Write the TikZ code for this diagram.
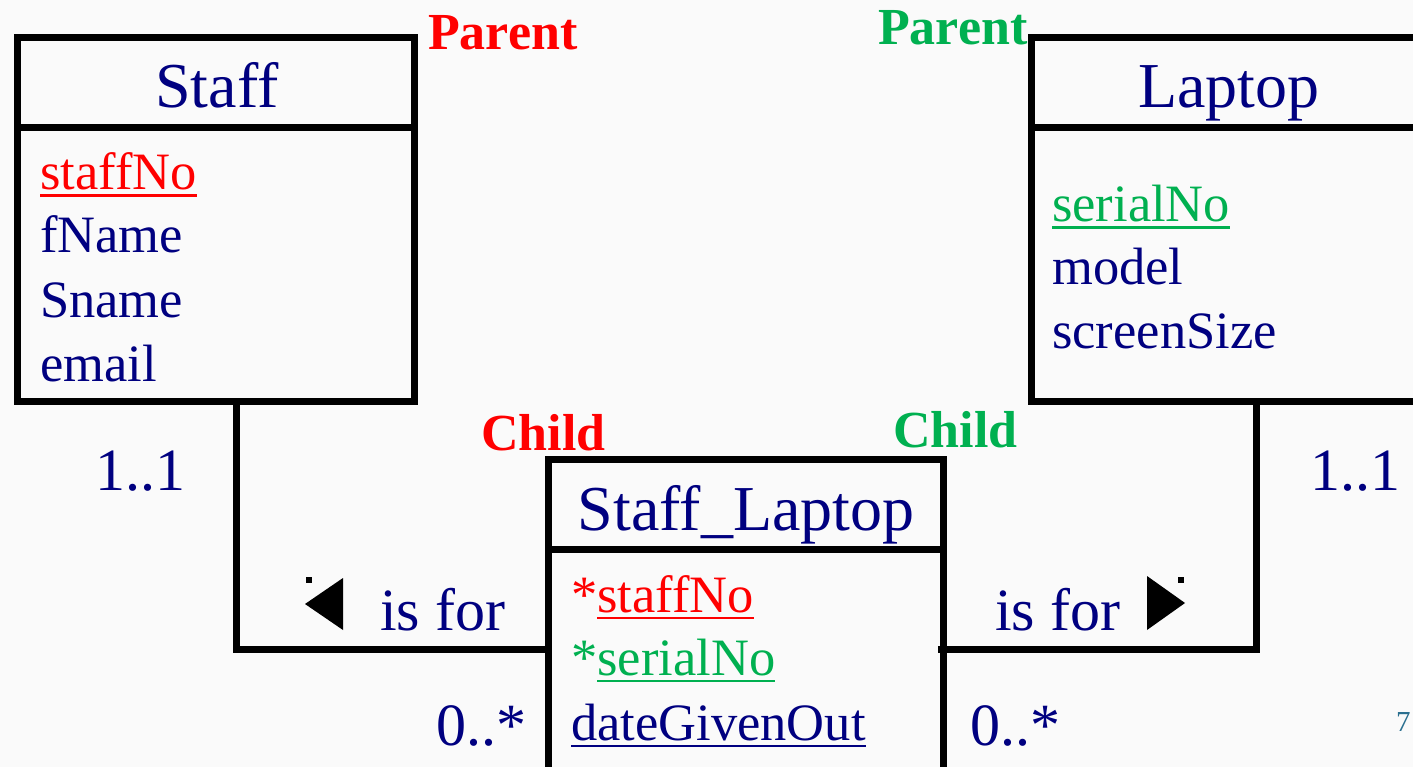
\documentclass[tikz,border=0pt]{standalone}
\usepackage{fontspec}
\setmainfont{Liberation Serif}
\definecolor{mynavy}{HTML}{000080}
\definecolor{kred}{HTML}{FF0000}
\definecolor{kgreen}{HTML}{00B050}
\definecolor{bgc}{HTML}{FAFAFA}
\definecolor{pagec}{HTML}{2A6F8F}
\newsavebox\ulbox
\newcommand\ulin[1]{\sbox\ulbox{#1}\rlap{\rule[-7pt]{\wd\ulbox}{2.5pt}}\usebox\ulbox}
\tikzset{
  umlbox/.style={draw, line width=7pt, rectangle, inner sep=0pt, outer sep=0pt, anchor=north west},
  title/.style={text=mynavy, font=\fontsize{64}{64}\selectfont, anchor=base, inner sep=0pt},
  attr/.style={text=mynavy, font=\fontsize{52.5}{52.5}\selectfont, anchor=base west, inner sep=0pt},
  role/.style={font=\bfseries\fontsize{52}{52}\selectfont, anchor=base west, inner sep=0pt},
  mult/.style={text=mynavy, font=\fontsize{60}{60}\selectfont, anchor=base west, inner sep=0pt},
  conn/.style={line width=7pt},
  tri/.style={fill=black},
}
\begin{document}
\begin{tikzpicture}[x=1pt, y=-1pt]
\useasboundingbox (0,0) rectangle (1413,767);
\clip (0,0) rectangle (1413,767);
\fill[bgc] (0,0) rectangle (1413,767);

% boxes
\node[umlbox, minimum width=397pt, minimum height=363pt] (staff) at (17,38) {};
\node[umlbox, minimum width=449pt, minimum height=363pt] (laptop) at (1031,38) {};
\node[umlbox, minimum width=395pt, minimum height=341pt] (link) at (548,459) {};
\draw[conn] (staff.west |- 0,128) -- (staff.east |- 0,128);
\draw[conn] (laptop.west |- 0,128) -- (laptop.east |- 0,128);
\draw[conn] (link.west |- 0,549) -- (link.east |- 0,549);

% titles
\node[title] (tstaff) at (217,108) {Staff};
\node[title] (tlaptop) at (1229,108) {Laptop};
\node[title] (tlink) at (746,530) {Staff\_Laptop};

% attributes
\node[attr, text=kred] (a1) at (40,190) {\ulin{staffNo}};
\node[attr] (a2) at (40,253) {fName};
\node[attr] (a3) at (40,317) {Sname};
\node[attr] (a4) at (40,381) {email};

\node[attr, text=kgreen] (b1) at (1052,222) {\ulin{serialNo}};
\node[attr] (b2) at (1052,285) {model};
\node[attr] (b3) at (1052,348) {screenSize};

\node[attr, text=kred] (c1) at (571,612) {*\ulin{staffNo}};
\node[attr, text=kgreen] (c2) at (571,675) {*\ulin{serialNo}};
\node[attr] (c3) at (571,740) {\ulin{dateGivenOut}};

% roles
\node[role, text=kred] (p1) at (428,50) {Parent};
\node[role, text=kgreen] (p2) at (878,45) {Parent};
\node[role, text=kred] (ch1) at (481,450) {Child};
\node[role, text=kgreen] (ch2) at (893,447) {Child};

% connectors
\coordinate (lc) at (236,649);
\coordinate (rc) at (1256,649);
\draw[conn] (staff.south -| lc) -- (lc) -- (link.west |- lc);
\draw[conn] (laptop.south -| rc) -- (rc) -- ([xshift=-5pt]link.east |- rc);

% multiplicities
\node[mult] (m1) at (95,490) {1..1};
\node[mult] (m2) at (1310,490) {1..1};
\node[mult] (m3) at (436,745) {0..*};
\node[mult] (m4) at (970,745) {0..*};
\node[mult] (f1) at (380,630) {is for};
\node[mult] (f2) at (995,630) {is for};

% direction triangles
\fill[tri] (305,604) -- (343,578) -- (343,630) -- cycle;
\fill[tri] (306,577) rectangle (312,583);
\fill[tri] (1147,576) -- (1185,603) -- (1147,630) -- cycle;
\fill[tri] (1178,577) rectangle (1184,583);

% page number
\node[anchor=base west, inner sep=0pt, text=pagec, font=\fontsize{29}{29}\selectfont] (pg) at (1396,731) {7};
\end{tikzpicture}
\end{document}
